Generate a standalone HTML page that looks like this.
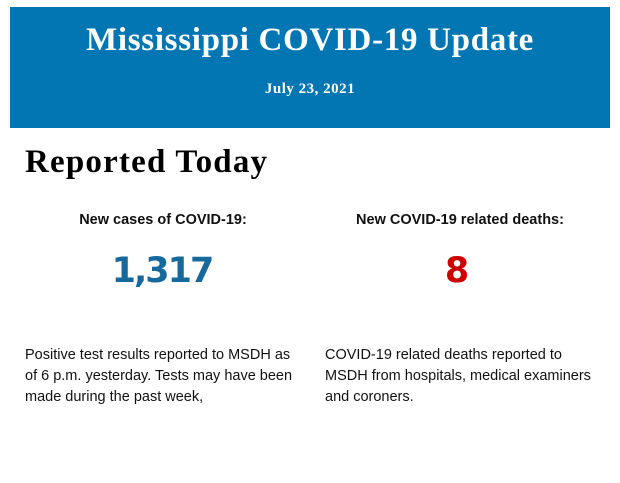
<!DOCTYPE html>
<html><head><style>
body{margin:0;width:620px;height:483px;background:#fff;position:relative;overflow:hidden;font-family:"Liberation Sans",sans-serif}
.hdr{position:absolute;left:10px;top:7px;width:600px;height:121px;background:#0276b3}
.t{position:absolute;left:0;width:600px;text-align:center;color:#fff;font-family:"Liberation Serif",serif;font-weight:bold}
.a{position:absolute;white-space:nowrap}
</style></head><body>
<div class="hdr">
<div class="t" style="top:14px;font-size:33px;line-height:38px;letter-spacing:0.7px">Mississippi COVID-19 Update</div>
<div class="t" style="top:73px;font-size:15px;line-height:18px;letter-spacing:0.5px">July 23, 2021</div>
</div>
<div class="a" style="left:25px;top:144px;font-family:'Liberation Serif',serif;font-weight:bold;font-size:33px;line-height:36px;color:#000;letter-spacing:1.2px">Reported Today</div>
<div class="a" style="left:13px;width:300px;text-align:center;top:212px;font-weight:bold;font-size:14.5px;color:#111">New cases of COVID-19:</div>
<div class="a" style="left:310px;width:300px;text-align:center;top:212px;font-weight:bold;font-size:14.5px;color:#111">New COVID-19 related deaths:</div>
<div class="a" style="left:12px;width:300px;text-align:center;top:250px;font-weight:bold;font-size:35px;line-height:42px;color:#17699b;font-family:'DejaVu Sans',sans-serif;letter-spacing:-2px">1,317</div>
<div class="a" style="left:307px;width:300px;text-align:center;top:250px;font-weight:bold;font-size:35px;line-height:42px;color:#cc0000;font-family:'DejaVu Sans',sans-serif">8</div>
<div class="a" style="left:25px;top:345px;font-size:14.5px;line-height:21px;color:#111">Positive test results reported to MSDH as<br>of 6 p.m. yesterday. Tests may have been<br>made during the past week,</div>
<div class="a" style="left:325px;top:345px;font-size:14.5px;line-height:21px;color:#111">COVID-19 related deaths reported to<br>MSDH from hospitals, medical examiners<br>and coroners.</div>
</body></html>
